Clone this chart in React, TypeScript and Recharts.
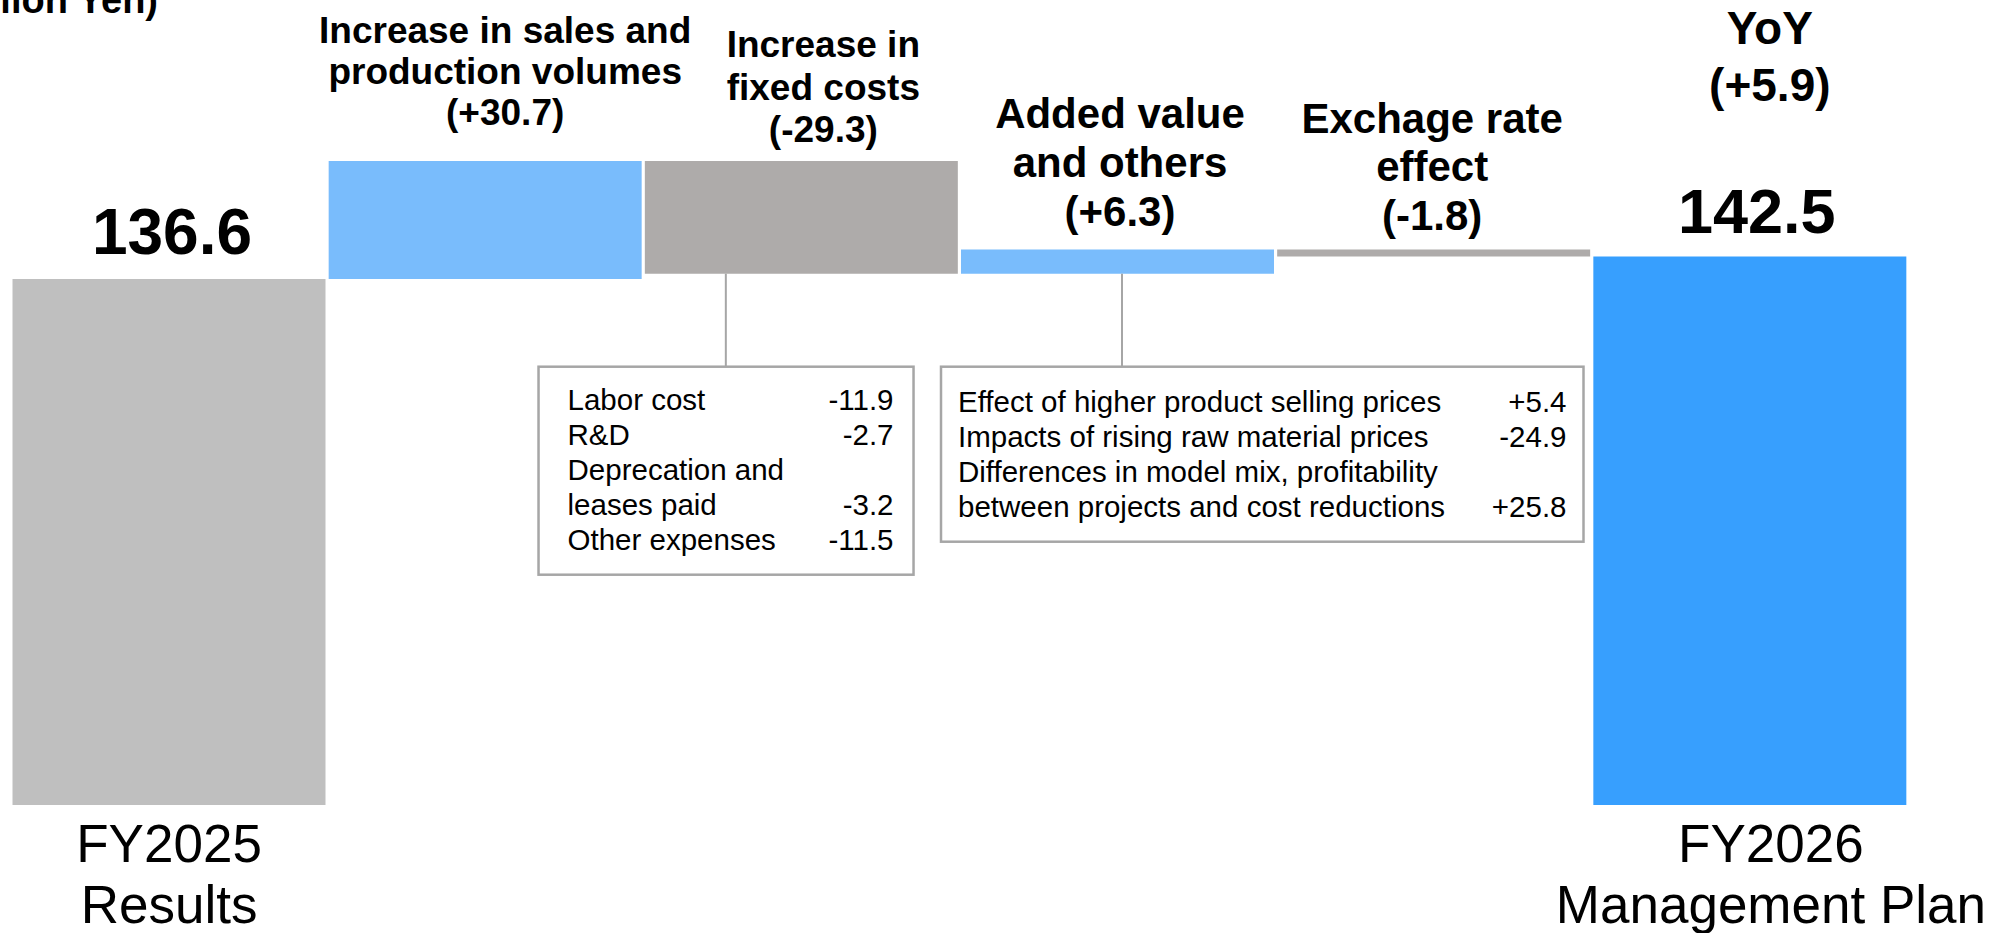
import React from "react";
import { BarChart, Bar, XAxis, YAxis, Cell, LabelList } from "recharts";

// values in billion yen
const categories = [
  "FY2025 Results",
  "Increase in sales and production volumes",
  "Increase in fixed costs",
  "Added value and others",
  "Exchage rate effect",
  "FY2026 Management Plan",
];
const isTotal = [true, false, false, false, false, true];
const amounts = [136.6, 30.7, -29.3, 6.3, -1.8, 142.5];

const headings = [
  [],
  ["Increase in sales and", "production volumes"],
  ["Increase in", "fixed costs"],
  ["Added value", "and others"],
  ["Exchage rate", "effect"],
  ["YoY"],
];
const axisLabels = [["FY2025", "Results"], [], [], [], [], ["FY2026", "Management Plan"]];

const fixedCostItems = [
  ["Labor cost", "-11.9"],
  ["R&D", "-2.7"],
  ["Deprecation and", ""],
  ["leases paid", "-3.2"],
  ["Other expenses", "-11.5"],
];
const addedValueItems = [
  ["Effect of higher product selling prices", "+5.4"],
  ["Impacts of rising raw material prices", "-24.9"],
  ["Differences in model mix, profitability", ""],
  ["between projects and cost reductions", "+25.8"],
];

const COLORS = ["#BFBFBF", "#79BCFC", "#AEABAA", "#79BCFC", "#AEABAA", "#379FFE"];
const FONT = "'Liberation Sans', Arial, sans-serif";

// waterfall rows: invisible base + visible span
let running = 0;
const data = categories.map((name, i) => {
  if (isTotal[i]) {
    running = amounts[i];
    return { name, base: 0, span: amounts[i] };
  }
  const start = running;
  running += amounts[i];
  return { name, base: Math.min(start, running), span: Math.abs(amounts[i]) };
});

const yoy = amounts[5] - amounts[0];
const fmtDelta = (v: number) => `(${v > 0 ? "+" : ""}${v.toFixed(1)})`;

// heading layout per bar (dx from bar centre, baseline of last line above bar top)
const headingStyle: any[] = [
  null,
  { dx: 20, size: 37, lead: 41.2, last: -35.7 },
  { dx: 22, size: 37, lead: 42.2, last: -19 },
  { dx: 2.5, size: 42, lead: 49, last: -23.2 },
  { dx: -1.5, size: 42, lead: 48.3, last: -19.9 },
  { dx: 20, size: 46, lead: 57, last: -155 },
];
const totalStyle: any[] = [{ dx: 3, size: 64, off: -24.6 }, null, null, null, null, { dx: 7, size: 63, off: -23.5 }];

const callouts: any = {
  2: { items: fixedCostItems, boxDx: -106.3, w: 375, h: 208, lineDx: 81, padL: 29, padR: 20, first: 43.5 },
  3: { items: addedValueItems, boxDx: -20, w: 642.5, h: 175, lineDx: 161, padL: 17, padR: 17, first: 45 },
};

const renderNotes = (props: any) => {
  const { index } = props;
  const x = Number(props.x);
  const y = Number(props.y);
  const width = Number(props.width);
  const height = Number(props.height);
  const cx = x + width / 2;
  const parts: any[] = [];

  if (isTotal[index] && totalStyle[index]) {
    const s = totalStyle[index];
    parts.push(
      <text key="tot" x={cx + s.dx} y={y + s.off} textAnchor="middle" fontSize={s.size} fontWeight="bold" fontFamily={FONT} fill="#000">
        {amounts[index].toFixed(1)}
      </text>
    );
  }

  const hs = headingStyle[index];
  if (hs) {
    const lines = [...headings[index], fmtDelta(index === 5 ? yoy : amounts[index])];
    lines.forEach((ln, k) => {
      parts.push(
        <text key={`h${k}`} x={cx + hs.dx} y={y + hs.last - (lines.length - 1 - k) * hs.lead} textAnchor="middle" fontSize={hs.size} fontWeight="bold" fontFamily={FONT} fill="#000">
          {ln}
        </text>
      );
    });
  }

  const c = callouts[index];
  if (c) {
    const bottom = y + height;
    const top = bottom + 93;
    const bx = x + c.boxDx;
    parts.push(<line key="ln" x1={x + c.lineDx} x2={x + c.lineDx} y1={bottom} y2={top} stroke="#A6A6A6" strokeWidth={2} />);
    parts.push(<rect key="box" x={bx} y={top} width={c.w} height={c.h} fill="#fff" stroke="#A6A6A6" strokeWidth={2.5} />);
    c.items.forEach((row: string[], k: number) => {
      const by = top + c.first + k * 35;
      parts.push(
        <text key={`l${k}`} x={bx + c.padL} y={by} fontSize={29.5} fontFamily={FONT} fill="#000">
          {row[0]}
        </text>
      );
      if (row[1])
        parts.push(
          <text key={`v${k}`} x={bx + c.w - c.padR} y={by} textAnchor="end" fontSize={29.5} fontFamily={FONT} fill="#000">
            {row[1]}
          </text>
        );
    });
  }
  return <g>{parts}</g>;
};

const AxisTick = (props: any) => {
  const { x, y, payload } = props;
  const idx = categories.indexOf(payload.value);
  const lines = axisLabels[idx] || [];
  const dx = idx === 5 ? 21 : 0;
  return (
    <g>
      {lines.map((ln, k) => (
        <text key={k} x={x + dx} y={y + 57 + k * 61} textAnchor="middle" fontSize={53} fontFamily={FONT} fill="#000">
          {ln}
        </text>
      ))}
    </g>
  );
};

export default function App() {
  return (
    <div style={{ position: "absolute", left: 0, top: 0, width: 1989, height: 933, background: "#fff", overflow: "hidden" }}>
      <BarChart width={1989} height={933} data={data} margin={{ top: 35, right: 81, left: 11, bottom: 0 }} barCategoryGap={1.5}>
        <XAxis dataKey="name" axisLine={false} tickLine={false} tickSize={0} tickMargin={0} height={128} interval={0} tick={<AxisTick />} />
        <YAxis hide domain={[0, 200]} />
        <Bar dataKey="base" stackId="w" fill="transparent" isAnimationActive={false} />
        <Bar dataKey="span" stackId="w" isAnimationActive={false}>
          {data.map((_, i) => (
            <Cell key={`c-${i}`} fill={COLORS[i]} />
          ))}
          <LabelList dataKey="span" content={renderNotes} />
        </Bar>
      </BarChart>
      <svg width={400} height={60} style={{ position: "absolute", left: 0, top: 0 }}>
        <text x={158} y={13} textAnchor="end" fontSize={38} fontWeight="bold" fontFamily={FONT} fill="#000">
          (Billion Yen)
        </text>
      </svg>
    </div>
  );
}
